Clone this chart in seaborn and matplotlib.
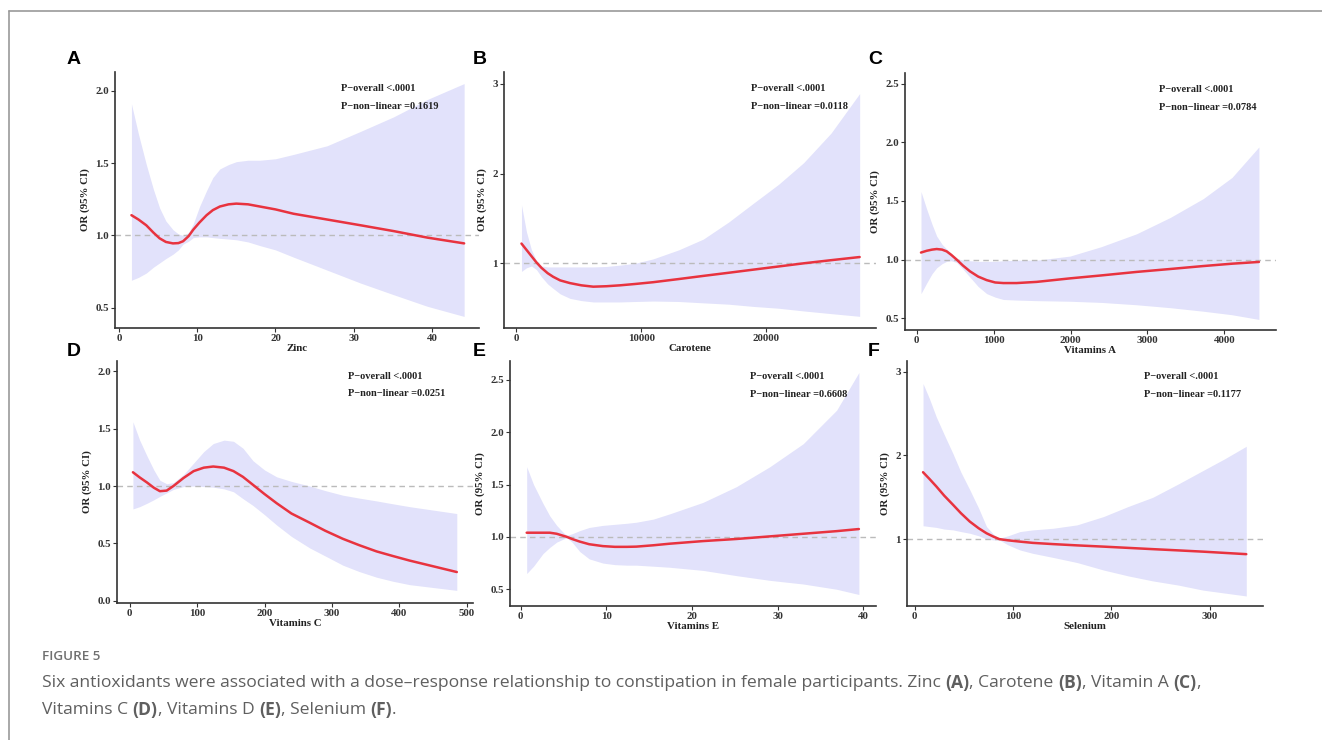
import numpy as np
import pandas as pd
import matplotlib
matplotlib.use("Agg")
import matplotlib.pyplot as plt
from matplotlib.lines import Line2D
import seaborn as sns

# ---------------------------------------------------------------
# Data (exposure, OR, lower CI, upper CI)
# ---------------------------------------------------------------
zinc_x = [1.6, 2.5, 3.5, 4.4, 5.2, 6.0, 6.9, 7.6, 8.2, 8.9, 9.5, 10.3, 11.2, 12.0,
          12.9, 14.0, 15.0, 16.5, 18.0, 20.0, 22.3, 26.6, 30.9, 35.1, 39.4, 44.1]
zinc_or = [1.14, 1.11, 1.07, 1.02, 0.98, 0.955, 0.945, 0.947, 0.96, 0.995, 1.04, 1.09,
           1.14, 1.175, 1.20, 1.215, 1.22, 1.215, 1.20, 1.18, 1.15, 1.11, 1.07, 1.03,
           0.985, 0.945]
zinc_lo = [0.69, 0.71, 0.74, 0.78, 0.81, 0.84, 0.87, 0.90, 0.94, 0.96, 0.985, 0.99,
           0.99, 0.985, 0.98, 0.975, 0.97, 0.955, 0.93, 0.90, 0.85, 0.76, 0.67, 0.59,
           0.51, 0.44]
zinc_hi = [1.91, 1.70, 1.49, 1.32, 1.19, 1.10, 1.04, 1.01, 1.0, 1.02, 1.08, 1.20,
           1.31, 1.40, 1.46, 1.49, 1.51, 1.52, 1.52, 1.53, 1.56, 1.62, 1.72, 1.82,
           1.94, 2.05]

carotene_x = [400, 800, 1200, 1600, 2000, 2500, 2940, 3500, 4280, 5200, 6150, 7200,
              8290, 9500, 10960, 13000, 14970, 17000, 18990, 21000, 23000, 25200, 27490]
carotene_or = [1.22, 1.15, 1.08, 1.01, 0.95, 0.89, 0.85, 0.81, 0.78, 0.755, 0.74, 0.745,
               0.755, 0.77, 0.79, 0.825, 0.86, 0.895, 0.93, 0.965, 1.0, 1.035, 1.07]
carotene_lo = [0.91, 0.95, 0.97, 0.93, 0.85, 0.77, 0.72, 0.66, 0.61, 0.585, 0.57, 0.57,
               0.57, 0.575, 0.58, 0.575, 0.56, 0.545, 0.52, 0.50, 0.47, 0.44, 0.41]
carotene_hi = [1.65, 1.35, 1.15, 1.03, 0.97, 0.96, 0.96, 0.96, 0.96, 0.96, 0.96, 0.965,
               0.98, 1.0, 1.05, 1.15, 1.27, 1.46, 1.67, 1.88, 2.12, 2.45, 2.89]

vit_a_x = [56, 130, 200, 260, 330, 390, 450, 520, 600, 693, 800, 910, 1020, 1127,
           1300, 1560, 1994, 2400, 2860, 3300, 3727, 4100, 4450]
vit_a_or = [1.06, 1.075, 1.085, 1.09, 1.085, 1.07, 1.04, 1.0, 0.95, 0.90, 0.855, 0.825,
            0.805, 0.80, 0.80, 0.81, 0.84, 0.865, 0.895, 0.92, 0.945, 0.965, 0.98]
vit_a_lo = [0.71, 0.80, 0.88, 0.93, 0.965, 0.985, 0.99, 0.975, 0.92, 0.85, 0.77, 0.71,
            0.68, 0.66, 0.655, 0.65, 0.645, 0.635, 0.615, 0.59, 0.56, 0.53, 0.49]
vit_a_hi = [1.58, 1.43, 1.30, 1.20, 1.13, 1.09, 1.05, 1.01, 0.995, 0.99, 0.985, 0.985,
            0.985, 0.99, 0.995, 0.995, 1.03, 1.11, 1.22, 1.36, 1.52, 1.70, 1.96]

vit_c_x = [5, 15, 26, 36, 45, 55, 65, 80, 95, 110, 124, 140, 154, 168, 183, 200, 218,
           240, 267, 290, 316, 340, 366, 390, 415, 450, 485]
vit_c_or = [1.12, 1.075, 1.03, 0.985, 0.955, 0.96, 1.0, 1.07, 1.13, 1.16, 1.17, 1.16,
            1.13, 1.08, 1.01, 0.93, 0.85, 0.76, 0.68, 0.61, 0.54, 0.485, 0.43, 0.39,
            0.35, 0.30, 0.25]
vit_c_lo = [0.80, 0.82, 0.85, 0.88, 0.91, 0.94, 0.97, 0.995, 1.0, 0.995, 0.99, 0.975,
            0.95, 0.89, 0.83, 0.75, 0.66, 0.56, 0.46, 0.39, 0.31, 0.255, 0.205, 0.17,
            0.14, 0.115, 0.09]
vit_c_hi = [1.56, 1.40, 1.26, 1.14, 1.05, 1.02, 1.03, 1.10, 1.20, 1.30, 1.37, 1.40,
            1.39, 1.33, 1.22, 1.14, 1.08, 1.04, 1.00, 0.96, 0.92, 0.895, 0.87, 0.845,
            0.82, 0.79, 0.76]

vit_e_x = [0.7, 1.5, 2.6, 3.4, 4.2, 5.0, 5.4, 6.0, 6.9, 8.0, 9.6, 11.0, 12.4, 13.5,
           15.5, 17.4, 21.3, 25.2, 29.1, 33.0, 36.9, 39.5]
vit_e_or = [1.04, 1.04, 1.04, 1.04, 1.03, 1.01, 1.0, 0.98, 0.955, 0.93, 0.912, 0.905,
            0.905, 0.907, 0.92, 0.935, 0.96, 0.98, 1.005, 1.03, 1.055, 1.075]
vit_e_lo = [0.65, 0.72, 0.84, 0.90, 0.95, 0.98, 0.99, 0.95, 0.86, 0.79, 0.75, 0.735,
            0.73, 0.73, 0.72, 0.71, 0.68, 0.63, 0.585, 0.55, 0.50, 0.45]
vit_e_hi = [1.67, 1.50, 1.32, 1.20, 1.11, 1.04, 1.015, 1.03, 1.06, 1.09, 1.11, 1.12,
            1.13, 1.14, 1.17, 1.22, 1.33, 1.48, 1.67, 1.89, 2.21, 2.57]

selenium_x = [8.5, 15, 22, 30, 39, 47, 56, 65, 73, 80, 86, 95, 107, 120, 141, 165, 192,
              217, 242, 268, 293, 315, 337]
selenium_or = [1.80, 1.72, 1.63, 1.52, 1.41, 1.31, 1.21, 1.13, 1.07, 1.03, 1.0, 0.985,
               0.97, 0.955, 0.94, 0.925, 0.91, 0.895, 0.88, 0.865, 0.85, 0.835, 0.82]
selenium_lo = [1.16, 1.15, 1.14, 1.12, 1.11, 1.09, 1.07, 1.04, 1.0, 0.99, 0.99, 0.93,
               0.87, 0.83, 0.78, 0.72, 0.63, 0.56, 0.50, 0.45, 0.39, 0.355, 0.32]
selenium_hi = [2.86, 2.68, 2.46, 2.25, 2.02, 1.80, 1.59, 1.37, 1.15, 1.06, 1.01, 1.04,
               1.09, 1.11, 1.13, 1.17, 1.27, 1.39, 1.50, 1.66, 1.82, 1.96, 2.11]

panel_letters = ["A", "B", "C", "D", "E", "F"]
x_labels = ["Zinc", "Carotene", "Vitamins A", "Vitamins C", "Vitamins E", "Selenium"]
p_nonlinear = ["0.1619", "0.0118", "0.0784", "0.0251", "0.6608", "0.1177"]
x_ticks = [[0, 10, 20, 30, 40], [0, 10000, 20000], [0, 1000, 2000, 3000, 4000],
           [0, 100, 200, 300, 400, 500], [0, 10, 20, 30, 40], [0, 100, 200, 300]]
y_ticks = [[0.5, 1.0, 1.5, 2.0], [1, 2, 3], [0.5, 1.0, 1.5, 2.0, 2.5],
           [0.0, 0.5, 1.0, 1.5, 2.0], [0.5, 1.0, 1.5, 2.0, 2.5], [1, 2, 3]]
y_fmt = ["%.1f", "%d", "%.1f", "%.1f", "%.1f", "%d"]

series = [
    (zinc_x, zinc_or, zinc_lo, zinc_hi),
    (carotene_x, carotene_or, carotene_lo, carotene_hi),
    (vit_a_x, vit_a_or, vit_a_lo, vit_a_hi),
    (vit_c_x, vit_c_or, vit_c_lo, vit_c_hi),
    (vit_e_x, vit_e_or, vit_e_lo, vit_e_hi),
    (selenium_x, selenium_or, selenium_lo, selenium_hi),
]

# layout (pixel boxes: left, top, right, bottom) and axis limits
W, H = 1322, 740
boxes = [(115, 72, 479, 328), (504, 72, 876, 328), (905, 73, 1276, 330),
         (117, 361, 473, 603), (510, 361, 876, 606), (907, 361, 1263, 606)]
letter_pos = [(67, 60), (473, 60), (868, 60), (67, 352), (473, 352), (868, 352)]
xlims = [(-0.5, 46), (-1000, 28800), (-152, 4672), (-18.6, 509), (-1.25, 41.5), (-7.8, 354)]
ylims = [(0.36, 2.13), (0.28, 3.13), (0.40, 2.59), (-0.02, 2.09), (0.34, 2.68), (0.20, 3.13)]
text_x = [0.62, 0.664, 0.685, 0.65, 0.656, 0.666]

RED = "#E8333F"
BAND = "#E2E2FB"
INK = "#333333"
SERIF = ["Liberation Serif", "DejaVu Serif"]

sns.set_theme(style="ticks")
plt.rcParams["font.family"] = ["Liberation Serif", "DejaVu Sans"]

fig = plt.figure(figsize=(W / 100, H / 100), dpi=100)
fig.patch.set_facecolor("white")

for i, (xs, ors, lo, hi) in enumerate(series):
    l, t, r, b = boxes[i]
    ax = fig.add_axes([l / W, 1 - b / H, (r - l) / W, (b - t) / H])
    df = pd.DataFrame({"x": xs, "or": ors, "lo": lo, "hi": hi})

    ax.fill_between(df["x"], df["lo"], df["hi"], color=BAND, linewidth=0, zorder=1)
    ax.axhline(1.0, color="#BBBBBB", lw=1.0, ls=(0, (4, 3)), zorder=2)
    sns.lineplot(data=df, x="x", y="or", ax=ax, color=RED, linewidth=1.8,
                 sort=False, errorbar=None, zorder=3)

    ax.set_xlim(*xlims[i])
    ax.set_ylim(*ylims[i])
    ax.set_xticks(x_ticks[i])
    ax.set_yticks(y_ticks[i])
    ax.set_yticklabels([y_fmt[i] % v for v in y_ticks[i]])
    sns.despine(ax=ax)
    for side in ["left", "bottom"]:
        ax.spines[side].set_color(INK)
        ax.spines[side].set_linewidth(1.2)
    ax.tick_params(axis="both", length=3, width=0.8, color=INK, pad=1.5,
                   labelsize=7.8, labelcolor=INK)
    for lab in ax.get_xticklabels() + ax.get_yticklabels():
        lab.set_fontweight("bold")
        lab.set_family(SERIF)
    ax.set_xlabel(x_labels[i], fontsize=7.8, fontweight="bold", family=SERIF,
                  color="#222222", labelpad=0.5)
    ax.set_ylabel("OR (95% CI)", fontsize=7.8, fontweight="bold", family=SERIF,
                  color="#222222", labelpad=4)

    ax.text(text_x[i], 0.935, "P\u2212overall <.0001", transform=ax.transAxes,
            fontsize=7.5, fontweight="bold", family=SERIF, color="#222222", va="center")
    ax.text(text_x[i], 0.865, "P\u2212non\u2212linear =" + p_nonlinear[i],
            transform=ax.transAxes, fontsize=7.5, fontweight="bold", family=SERIF,
            color="#222222", va="center")

    # panel letter
    lx, ly = letter_pos[i]
    fig.text(lx / W, 1 - ly / H, panel_letters[i], fontsize=14,
             fontweight="bold", family=["Liberation Sans", "DejaVu Sans"],
             color="black", ha="left", va="center")

# outer frame (top and left rules)
fig.add_artist(Line2D([9 / W, 1], [1 - 11 / H, 1 - 11 / H], color="#999999", lw=1.2))
fig.add_artist(Line2D([9 / W, 9 / W], [0, 1 - 11 / H], color="#999999", lw=1.2))

# caption
CAP = ["Open Sans", "DejaVu Sans"]
fig.text(42 / W, 1 - 657 / H, "FIGURE 5", fontsize=9.7, fontweight="semibold",
         family=CAP, color="#707070", va="center")

renderer = fig.canvas.get_renderer()


def draw_runs(x_px, y_px, runs, size=12.6):
    x = x_px
    for txt, bold in runs:
        t = fig.text(x / W, 1 - y_px / H, txt, fontsize=size, family=CAP,
                     fontweight="bold" if bold else "normal", color="#5f5f5f",
                     va="center", ha="left")
        x += t.get_window_extent(renderer=renderer).width


draw_runs(42, 683, [
    ("Six antioxidants were associated with a dose\u2013response relationship to "
     "constipation in female participants. Zinc ", False), ("(A)", True),
    (", Carotene ", False), ("(B)", True), (", Vitamin A ", False), ("(C)", True),
    (",", False)])
draw_runs(42, 710, [
    ("Vitamins C ", False), ("(D)", True), (", Vitamins D ", False), ("(E)", True),
    (", Selenium ", False), ("(F)", True), (".", False)])

fig.savefig("out.png", dpi=100, facecolor="white")
